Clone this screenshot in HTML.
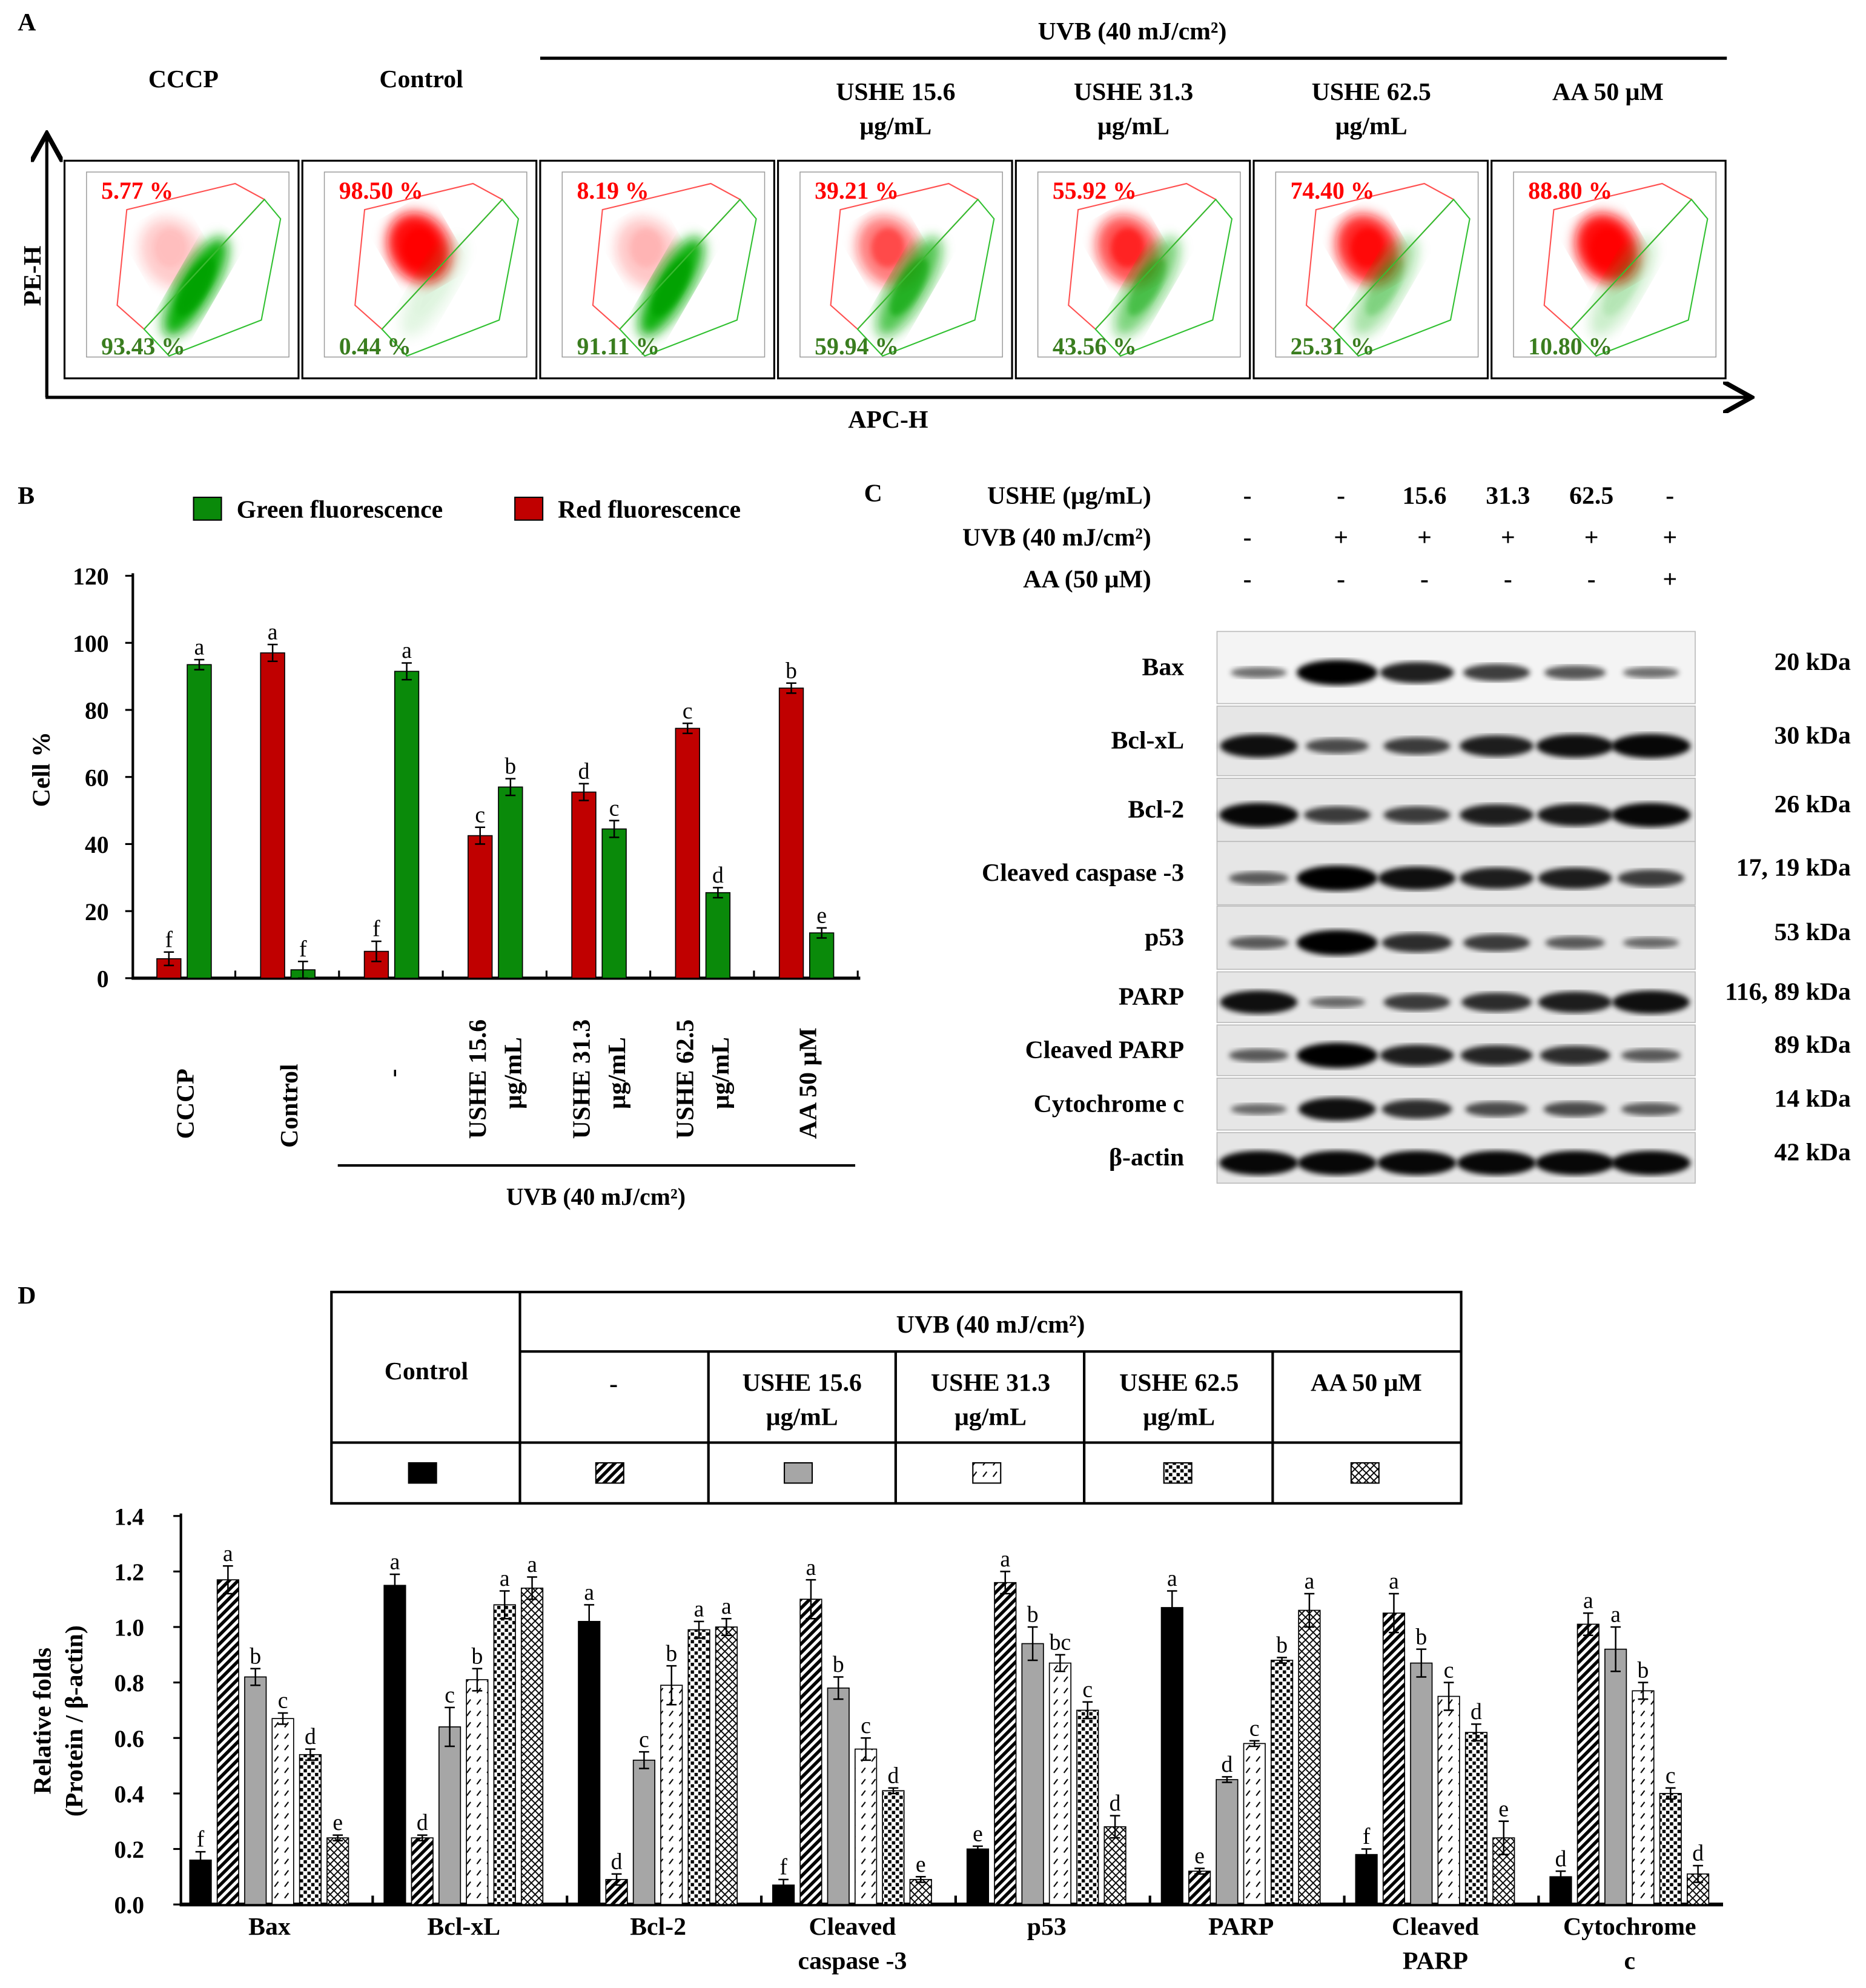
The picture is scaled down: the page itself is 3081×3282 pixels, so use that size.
<!DOCTYPE html>
<html><head><meta charset="utf-8"><style>
html,body{margin:0;padding:0;background:#fff}
svg{display:block}
text{font-family:"Liberation Serif",serif;font-weight:bold;fill:#000}
</style></head><body>
<svg id="fig" xmlns="http://www.w3.org/2000/svg" width="3081" height="3282" viewBox="0 0 1475 1571" preserveAspectRatio="none">
<defs>
<pattern id="p-hatch" width="5" height="5" patternUnits="userSpaceOnUse" patternTransform="rotate(45)"><rect width="5" height="5" fill="#fff"/><rect width="2.6" height="5" fill="#000"/></pattern>
<pattern id="p-slash" width="8" height="9" patternUnits="userSpaceOnUse"><rect width="8" height="9" fill="#fff"/><line x1="1" y1="6" x2="4" y2="2" stroke="#000" stroke-width="1"/></pattern>
<pattern id="p-dots" width="6" height="6" patternUnits="userSpaceOnUse"><rect width="6" height="6" fill="#fff"/><rect x="0" y="0" width="2.6" height="2.6" fill="#000"/><rect x="3" y="3" width="2.6" height="2.6" fill="#000"/></pattern>
<pattern id="p-weave" width="6" height="6" patternUnits="userSpaceOnUse"><rect width="6" height="6" fill="#fff"/><path d="M0 0 L3 3 L6 0 M0 6 L3 3 L6 6" stroke="#000" stroke-width="0.9" fill="none"/></pattern>
<filter id="blur2"><feGaussianBlur stdDeviation="2.2"/></filter>
<filter id="blur6"><feGaussianBlur stdDeviation="5"/></filter>
<marker id="arr" markerWidth="10" markerHeight="10" refX="8" refY="5" orient="auto"><path d="M0 0 L9 5 L0 10" fill="none" stroke="#000" stroke-width="1.5"/></marker>
</defs>

<!-- Panel A -->
<g>
<text x="14" y="24" font-size="20">A</text>
<text x="895" y="31" font-size="20" text-anchor="middle">UVB (40 mJ/cm²)</text>
<line x1="427" y1="46" x2="1365" y2="46" stroke="#000" stroke-width="2.5"/>
<text x="145" y="69" font-size="20" text-anchor="middle">CCCP</text>
<text x="333" y="69" font-size="20" text-anchor="middle">Control</text>
<text x="708" y="79" font-size="20" text-anchor="middle">USHE 15.6</text>
<text x="708" y="106" font-size="20" text-anchor="middle">μg/mL</text>
<text x="896" y="79" font-size="20" text-anchor="middle">USHE 31.3</text>
<text x="896" y="106" font-size="20" text-anchor="middle">μg/mL</text>
<text x="1084" y="79" font-size="20" text-anchor="middle">USHE 62.5</text>
<text x="1084" y="106" font-size="20" text-anchor="middle">μg/mL</text>
<text x="1271" y="79" font-size="20" text-anchor="middle">AA 50 μM</text>
<line x1="37" y1="314" x2="37" y2="108" stroke="#000" stroke-width="2.5" marker-end="url(#arr)"/>
<line x1="36" y1="314" x2="1382" y2="314" stroke="#000" stroke-width="2.5" marker-end="url(#arr)"/>
<text transform="translate(32,218) rotate(-90)" font-size="20" text-anchor="middle">PE-H</text>
<text x="702" y="338" font-size="20" text-anchor="middle">APC-H</text>
<g id="flow"></g>
</g>

<!-- Panel B -->
<g>
<text x="14" y="398" font-size="20">B</text>
<rect x="153" y="393" width="22" height="18" fill="#0a8a0a" stroke="#000"/>
<text x="187" y="409" font-size="20">Green fluorescence</text>
<rect x="407" y="393" width="22" height="18" fill="#c00000" stroke="#000"/>
<text x="441" y="409" font-size="20">Red fluorescence</text>
<text transform="translate(39,608) rotate(-90)" font-size="20" text-anchor="middle">Cell %</text>
<g id="chartB"></g>
<line x1="267" y1="921" x2="676" y2="921" stroke="#000" stroke-width="2"/>
<text x="471" y="952" font-size="19" text-anchor="middle">UVB (40 mJ/cm²)</text>
</g>

<!-- Panel C -->
<g>
<text x="683" y="396" font-size="20">C</text>
<g id="blotHeader"></g>
<g id="blots"></g>
</g>

<!-- Panel D -->
<g>
<text x="14" y="1030" font-size="20">D</text>
<g stroke="#000" stroke-width="2" fill="none">
<rect x="262" y="1021" width="893" height="167"/>
<line x1="411" y1="1021" x2="411" y2="1188"/>
<line x1="411" y1="1068" x2="1155" y2="1068"/>
<line x1="262" y1="1140" x2="1155" y2="1140"/>
<line x1="560" y1="1068" x2="560" y2="1188"/>
<line x1="708" y1="1068" x2="708" y2="1188"/>
<line x1="857" y1="1068" x2="857" y2="1188"/>
<line x1="1006" y1="1068" x2="1006" y2="1188"/>
</g>
<text x="783" y="1053" font-size="20" text-anchor="middle">UVB (40 mJ/cm²)</text>
<text x="337" y="1090" font-size="20" text-anchor="middle">Control</text>
<text x="485" y="1100" font-size="20" text-anchor="middle">-</text>
<text x="634" y="1099" font-size="20" text-anchor="middle">USHE 15.6</text>
<text x="634" y="1126" font-size="20" text-anchor="middle">μg/mL</text>
<text x="783" y="1099" font-size="20" text-anchor="middle">USHE 31.3</text>
<text x="783" y="1126" font-size="20" text-anchor="middle">μg/mL</text>
<text x="932" y="1099" font-size="20" text-anchor="middle">USHE 62.5</text>
<text x="932" y="1126" font-size="20" text-anchor="middle">μg/mL</text>
<text x="1080" y="1099" font-size="20" text-anchor="middle">AA 50 μM</text>
<rect x="323" y="1156" width="22" height="16" fill="#000" stroke="#000"/>
<rect x="471" y="1156" width="22" height="16" fill="url(#p-hatch)" stroke="#000"/>
<rect x="620" y="1156" width="22" height="16" fill="#a6a6a6" stroke="#000"/>
<rect x="769" y="1156" width="22" height="16" fill="url(#p-slash)" stroke="#000"/>
<rect x="920" y="1156" width="22" height="16" fill="url(#p-dots)" stroke="#000"/>
<rect x="1068" y="1156" width="22" height="16" fill="url(#p-weave)" stroke="#000"/>
<text transform="translate(40,1360) rotate(-90)" font-size="20" text-anchor="middle">Relative folds</text>
<text transform="translate(65,1360) rotate(-90)" font-size="20" text-anchor="middle">(Protein / β-actin)</text>
<g id="chartD"></g>
</g>
</svg>
<script>
const NS='http://www.w3.org/2000/svg';
function mk(tag,attrs,parent,txt){const e=document.createElementNS(NS,tag);for(const k in attrs)e.setAttribute(k,attrs[k]);if(txt!==undefined)e.textContent=txt;parent.appendChild(e);return e;}

// ---------- Panel A flow plots ----------
const flowRed=["5.77 %","98.50 %","8.19 %","39.21 %","55.92 %","74.40 %","88.80 %"];
const flowGreen=["93.43 %","0.44 %","91.11 %","59.94 %","43.56 %","25.31 %","10.80 %"];
const flowRedFrac=[5.77,98.50,8.19,39.21,55.92,74.40,88.80];
const flowG=document.getElementById('flow');
const redGate=[[.266,.225],[.729,.105],[.854,.178],[.340,.774],[.225,.664]];
const greenGate=[[.340,.774],[.854,.178],[.923,.267],[.841,.732],[.447,.897]];
flowRedFrac.forEach((r,i)=>{
  const x0=51+i*188,y0=127,w=185,h=172;
  const g=mk('g',{},flowG);
  
  
  mk('rect',{x:x0,y:y0,width:w,height:h,fill:'#fff',stroke:'#000','stroke-width':1.5},g);
  mk('rect',{x:x0+w*.094,y:y0+h*.052,width:w*.865,height:h*.85,fill:'none',stroke:'#999','stroke-width':.7},g);
  const rf=r/100,gf=1-rf;
  mk('ellipse',{cx:x0+w*(.50-0.05*gf),cy:y0+h*.40,rx:w*.13,ry:h*.17,fill:'#ff1010',opacity:Math.min(1,0.15+rf),filter:'url(#blur6)',transform:`rotate(-30 ${x0+w*.5} ${y0+h*.4})`},g);
  mk('ellipse',{cx:x0+w*(.50-0.05*gf),cy:y0+h*.40,rx:w*.07,ry:h*.09,fill:'#ff0000',opacity:rf,filter:'url(#blur2)'},g);
  const gx=x0+w*.56,gy=y0+h*.58;
  mk('ellipse',{cx:gx,cy:gy,rx:w*.08,ry:h*.26,fill:'#10b010',opacity:Math.min(1,0.1+gf),filter:'url(#blur6)',transform:`rotate(30 ${gx} ${gy})`},g);
  mk('ellipse',{cx:gx,cy:gy,rx:w*.05,ry:h*.15,fill:'#00a000',opacity:gf*0.9,filter:'url(#blur2)',transform:`rotate(30 ${gx} ${gy})`},g);
  mk('polygon',{points:redGate.map(p=>(x0+p[0]*w)+','+(y0+p[1]*h)).join(' '),fill:'none',stroke:'#ff5050','stroke-width':1},g);
  mk('polygon',{points:greenGate.map(p=>(x0+p[0]*w)+','+(y0+p[1]*h)).join(' '),fill:'none',stroke:'#30c030','stroke-width':1},g);
  const t1=mk('text',{x:x0+29,y:y0+30,'font-size':19,style:'fill:#ff0000'},g,flowRed[i]);
  
  
  const t2=mk('text',{x:x0+29,y:y0+153,'font-size':19,style:'fill:#3a7d1f'},g,flowGreen[i]);
  
  
});

// ---------- Panel B ----------
const bCategories=["CCCP","Control","-","USHE 15.6|μg/mL","USHE 31.3|μg/mL","USHE 62.5|μg/mL","AA 50 μM"];
const bRed=[5.8,97,8,42.5,55.5,74.5,86.5];
const bRedErr=[2,2.5,3,2.5,2.5,1.5,1.5];
const bRedLetters=["f","a","f","c","d","c","b"];
const bGreen=[93.5,2.5,91.5,57,44.5,25.5,13.5];
const bGreenErr=[1.5,2.5,2.5,2.5,2.5,1.5,1.5];
const bGreenLetters=["a","f","a","b","c","d","e"];
const bTicks=[0,20,40,60,80,100,120];
const cb=document.getElementById('chartB');
const bY=v=>773-v*(318/120);
const bX=i=>124+i*82;
mk('line',{x1:105,y1:453,x2:105,y2:774,stroke:'#000','stroke-width':2},cb);
mk('line',{x1:104,y1:773,x2:680,y2:773,stroke:'#000','stroke-width':2.5},cb);
bTicks.forEach(t=>{
  mk('line',{x1:99,y1:bY(t),x2:105,y2:bY(t),stroke:'#000','stroke-width':1.5},cb);
  const tl=mk('text',{x:86,y:bY(t)+7,'font-size':19,'text-anchor':'end'},cb,String(t));
  
  
});
for(let i=1;i<=7;i++){mk('line',{x1:104+i*82,y1:773,x2:104+i*82,y2:767,stroke:'#000','stroke-width':1.5},cb);}
function barWithErr(parent,x,w,v,e,letter,fill,yfn,name){
  const r=mk('rect',{x:x,y:yfn(v),width:w,height:yfn(0)-yfn(v),fill:fill,stroke:'#000','stroke-width':0.8},parent);
  
  
  const cx=x+w/2;
  mk('line',{x1:cx,y1:yfn(v+e),x2:cx,y2:yfn(Math.max(0,v-e)),stroke:'#000','stroke-width':1.2},parent);
  mk('line',{x1:cx-4,y1:yfn(v+e),x2:cx+4,y2:yfn(v+e),stroke:'#000','stroke-width':1.2},parent);
  mk('line',{x1:cx-4,y1:yfn(Math.max(0,v-e)),x2:cx+4,y2:yfn(Math.max(0,v-e)),stroke:'#000','stroke-width':1.2},parent);
  const l=mk('text',{x:cx,y:yfn(v+e)-4,'font-size':18,'text-anchor':'middle',style:'font-weight:normal'},parent,letter);
  
  
}
bCategories.forEach((c,i)=>{
  barWithErr(cb,bX(i),19,bRed[i],bRedErr[i],bRedLetters[i],'#c00000',bY,'red-bar');
  barWithErr(cb,bX(i)+24,19,bGreen[i],bGreenErr[i],bGreenLetters[i],'#0a8a0a',bY,'green-bar');
  const parts=c.split('|');
  const cx=bX(i)+22;
  parts.forEach((p,j)=>{
    let t;
    if(c==="-"){
      t=mk('text',{'font-size':20,'text-anchor':'middle',transform:`translate(${cx+7},848) rotate(-90)`},cb,p);
    } else if(parts.length===2){
      if(j===0) t=mk('text',{'font-size':20,'text-anchor':'start',transform:`translate(${cx-8},900) rotate(-90)`},cb,p);
      else t=mk('text',{'font-size':20,'text-anchor':'middle',transform:`translate(${cx+20},848) rotate(-90)`},cb,p);
    } else {
      t=mk('text',{'font-size':20,'text-anchor':'start',transform:`translate(${cx+7},${c==="Control"?907:900}) rotate(-90)`},cb,p);
    }
    
    
  });
});

// ---------- Panel C ----------
const cLanes=[986,1060,1126,1192,1258,1320];
const cRowLabels=["USHE (μg/mL)","UVB (40 mJ/cm²)","AA (50 μM)"];
const cRowVals=[["-","-","15.6","31.3","62.5","-"],["-","+","+","+","+","+"],["-","-","-","-","-","+"]];
const bh=document.getElementById('blotHeader');
cRowLabels.forEach((l,r)=>{
  const y=398+r*33;
  const t=mk('text',{x:910,y:y,'font-size':20,'text-anchor':'end'},bh,l);
  
  
  cRowVals[r].forEach((v,k)=>{
    const tv=mk('text',{x:cLanes[k],y:y,'font-size':20,'text-anchor':'middle'},bh,v);
    
    
  });
});
const blotNames=["Bax","Bcl-xL","Bcl-2","Cleaved caspase -3","p53","PARP","Cleaved PARP","Cytochrome c","β-actin"];
const blotKda=["20 kDa","30 kDa","26 kDa","17, 19 kDa","53 kDa","116, 89 kDa","89 kDa","14 kDa","42 kDa"];
const blotIntensity=[[.3,1,.8,.6,.45,.3],[.9,.5,.6,.8,.9,.95],[.95,.6,.6,.8,.85,.95],[.4,1,.9,.8,.8,.6],[.4,1,.7,.6,.4,.3],[.9,.3,.6,.7,.8,.9],[.4,1,.8,.75,.7,.4],[.3,.9,.7,.5,.5,.4],[.95,.95,.95,.95,.95,.95]];
const blotTop=[499,558,615,665,716,768,810,852,895];
const blotBot=[556,613,665,715,766,808,850,893,935];
const bandX=[995,1057,1120,1183,1245,1305];
const bl=document.getElementById('blots');
blotNames.forEach((n,r)=>{
  const t0=blotTop[r],t1=blotBot[r],cy=(t0+t1)/2+4;
  const g=mk('g',{},bl);
  
  
  mk('rect',{x:962,y:t0,width:378,height:t1-t0,fill:r===0?'#f4f4f4':'#e6e6e6',stroke:'#bbb','stroke-width':.8},g);
  blotIntensity[r].forEach((v,k)=>{
    const b=mk('ellipse',{cx:bandX[k],cy:cy,rx:18+14*v,ry:2+8*v,fill:'#000',opacity:0.35+0.65*v,filter:'url(#blur2)'},g);
    
    
  });
  const t=mk('text',{x:936,y:cy+2,'font-size':20,'text-anchor':'end'},g,n);
  
  
  const k=mk('text',{x:1463,y:(t0+t1)/2+2,'font-size':20,'text-anchor':'end'},g,blotKda[r]);
  
  
});

// ---------- Panel D ----------
const dCategories=["Bax","Bcl-xL","Bcl-2","Cleaved|caspase -3","p53","PARP","Cleaved|PARP","Cytochrome|c"];
const dControl=[.16,1.15,1.02,.07,.2,1.07,.18,.1];
const dUVB=[1.17,.24,.09,1.10,1.16,.12,1.05,1.01];
const dUshe15=[.82,.64,.52,.78,.94,.45,.87,.92];
const dUshe31=[.67,.81,.79,.56,.87,.58,.75,.77];
const dUshe62=[.54,1.08,.99,.41,.70,.88,.62,.40];
const dAA=[.24,1.14,1.0,.09,.28,1.06,.24,.11];
const dErr=[[.03,.04,.06,.02,.01,.06,.02,.02],[.05,.01,.02,.07,.04,.01,.07,.04],[.03,.07,.03,.04,.06,.01,.05,.08],[.02,.04,.07,.04,.03,.01,.05,.03],[.02,.05,.03,.01,.03,.01,.03,.02],[.01,.04,.03,.01,.04,.06,.06,.03]];
const dLetters=[["f","a","b","c","d","e"],["a","d","c","b","a","a"],["a","d","c","b","a","a"],["f","a","b","c","d","e"],["e","a","b","bc","c","d"],["a","e","d","c","b","a"],["f","a","b","c","d","e"],["d","a","a","b","c","d"]];
const dTicks=[0,0.2,0.4,0.6,0.8,1.0,1.2,1.4];
const dFills=['#000','url(#p-hatch)','#a6a6a6','url(#p-slash)','url(#p-dots)','url(#p-weave)'];
const dSeries=[dControl,dUVB,dUshe15,dUshe31,dUshe62,dAA];
const cd=document.getElementById('chartD');
const dY=v=>1505-v*(307/1.4);
const dX=(c,s)=>150+c*153.6+s*21.7;
mk('line',{x1:143,y1:1196,x2:143,y2:1506,stroke:'#000','stroke-width':2},cd);
mk('line',{x1:142,y1:1505,x2:1362,y2:1505,stroke:'#000','stroke-width':3},cd);
dTicks.forEach(t=>{
  mk('line',{x1:137,y1:dY(t),x2:143,y2:dY(t),stroke:'#000','stroke-width':1.5},cd);
  const tl=mk('text',{x:114,y:dY(t)+7,'font-size':19,'text-anchor':'end'},cd,t.toFixed(1));
  
  
});
dCategories.forEach((c,ci)=>{
  if(ci>0) mk('line',{x1:dX(ci,0)-9,y1:1505,x2:dX(ci,0)-9,y2:1498,stroke:'#000','stroke-width':2},cd);
  dSeries.forEach((ser,si)=>{
    barWithErr(cd,dX(ci,si),17,ser[ci],dErr[si][ci],dLetters[ci][si],dFills[si],dY,'protein-bar');
  });
  const cx=dX(ci,0)+63;
  c.split('|').forEach((p,j)=>{
    const t=mk('text',{x:cx,y:1529+j*27,'font-size':20,'text-anchor':'middle'},cd,p);
    
    
  });
});
</script>
</body></html>
